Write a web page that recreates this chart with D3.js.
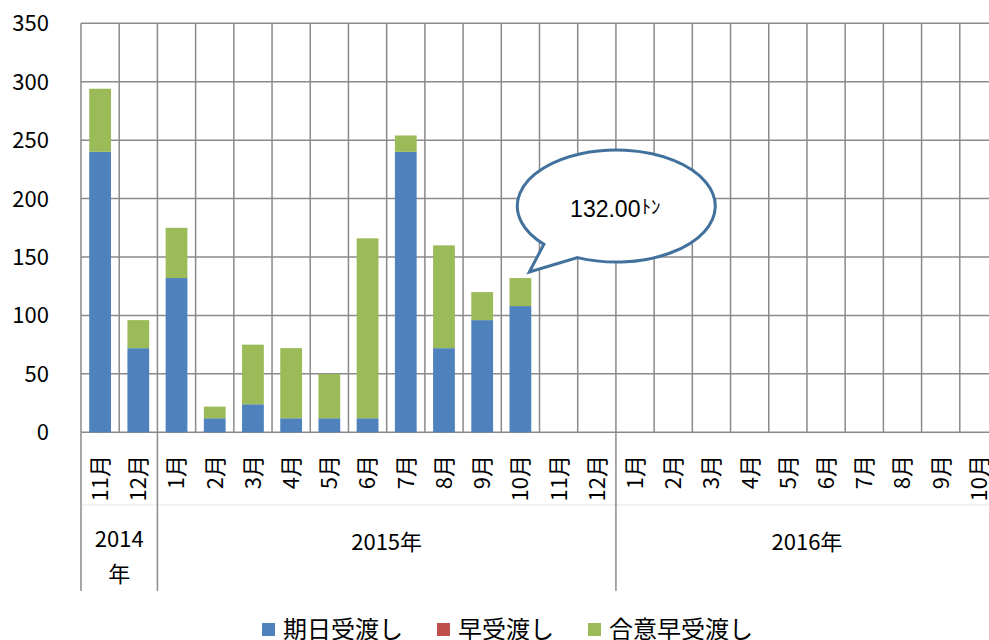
<!DOCTYPE html>
<html>
<head>
<meta charset="utf-8">
<script src="https://cdn.jsdelivr.net/npm/d3@7"></script>
<style>
  body { margin: 0; background: #fff; }
  text { font-family: "Noto Sans CJK JP", "Noto Sans", sans-serif; fill: #000; }
</style>
</head>
<body>
<svg id="chart" width="989" height="640"></svg>
<script>
var months = ["11月", "12月",
  "1月", "2月", "3月", "4月", "5月", "6月", "7月", "8月", "9月", "10月", "11月", "12月",
  "1月", "2月", "3月", "4月", "5月", "6月", "7月", "8月", "9月", "10月"];
var yearLabels = [["2014", "年"], ["2015年"], ["2016年"]];
var yearSpans = [2, 12, 10];

var seriesNames = ["期日受渡し", "早受渡し", "合意早受渡し"];
var seriesColors = ["#4F81BD", "#C0504D", "#9BBB59"];
var kijitsu = [240, 72, 132, 12, 24, 12, 12, 12, 240, 72, 96, 108];
var haya = [0, 0, 0, 0, 0, 0, 0, 0, 0, 0, 0, 0];
var goui = [54, 24, 43, 10, 51, 60, 38, 154, 14, 88, 24, 24];
var yTicks = [0, 50, 100, 150, 200, 250, 300, 350];

var calloutIndex = 11;
var calloutText = "132.00";
var calloutUnit = "ﾄﾝ";

var plotLeft = 81, plotTop = 23.3, plotBottom = 432.3, plotRight = 998;

var svg = d3.select("#chart");

var x = d3.scaleBand()
  .domain(d3.range(months.length))
  .range([plotLeft, plotRight])
  .paddingInner(0.43)
  .paddingOuter(0.215);
var step = x.step();

var y = d3.scaleLinear()
  .domain([0, 350])
  .range([plotBottom, plotTop]);

// grid
svg.append("g")
  .selectAll("line")
  .data(yTicks)
  .enter()
  .append("line")
  .attr("x1", plotLeft).attr("x2", plotRight)
  .attr("y1", function(d) { return y(d); })
  .attr("y2", function(d) { return y(d); })
  .attr("stroke", "#8a8a8a")
  .attr("stroke-width", 1.5);

svg.append("g")
  .selectAll("line")
  .data(d3.range(months.length + 1))
  .enter()
  .append("line")
  .attr("x1", function(i) { return plotLeft + i * step; })
  .attr("x2", function(i) { return plotLeft + i * step; })
  .attr("y1", plotTop)
  .attr("y2", plotBottom)
  .attr("stroke", "#8a8a8a")
  .attr("stroke-width", 1.5);

// year separators below the axis
var yearStarts = [0];
yearSpans.forEach(function(s, i) { yearStarts.push(yearStarts[i] + s); });

svg.append("line")
  .attr("x1", plotLeft).attr("x2", plotRight)
  .attr("y1", 505).attr("y2", 505)
  .attr("stroke", "#e6e6e6")
  .attr("stroke-width", 1);

svg.append("g")
  .selectAll("line")
  .data(yearStarts)
  .enter()
  .append("line")
  .attr("x1", function(i) { return plotLeft + i * step; })
  .attr("x2", function(i) { return plotLeft + i * step; })
  .attr("y1", plotBottom)
  .attr("y2", 591)
  .attr("stroke", "#8a8a8a")
  .attr("stroke-width", 1.5);

// stacked bars
var rows = kijitsu.map(function(v, i) {
  return { i: i, kijitsu: v, haya: haya[i], goui: goui[i] };
});
var stack = d3.stack().keys(["kijitsu", "haya", "goui"]);
var layers = stack(rows);

svg.append("g")
  .selectAll("g")
  .data(layers)
  .enter()
  .append("g")
  .attr("fill", function(d, k) { return seriesColors[k]; })
  .selectAll("rect")
  .data(function(d) { return d; })
  .enter()
  .append("rect")
  .attr("x", function(d) { return x(d.data.i); })
  .attr("width", x.bandwidth())
  .attr("y", function(d) { return y(d[1]); })
  .attr("height", function(d) { return y(d[0]) - y(d[1]); });

// y labels
svg.append("g")
  .selectAll("text")
  .data(yTicks)
  .enter()
  .append("text")
  .attr("x", 49)
  .attr("y", function(d) { return y(d); })
  .attr("dy", "0.36em")
  .attr("text-anchor", "end")
  .style("font-size", "22px")
  .text(function(d) { return d; });

// month labels
svg.append("g")
  .selectAll("text")
  .data(months)
  .enter()
  .append("text")
  .attr("transform", function(d, i) {
    return "translate(" + (x(i) + x.bandwidth() / 2) + ",455) rotate(-90)";
  })
  .attr("dy", "0.36em")
  .attr("text-anchor", "end")
  .style("font-size", "22px")
  .text(function(d) { return d; });

// year labels
var yearText = svg.append("g")
  .selectAll("text")
  .data(yearLabels)
  .enter()
  .append("text")
  .attr("text-anchor", "middle")
  .style("font-size", "22px")
  .attr("x", function(d, k) { return plotLeft + (yearStarts[k] + yearSpans[k] / 2) * step; })
  .attr("y", function(d) { return d.length > 1 ? 547 : 550; });
yearText.selectAll("tspan")
  .data(function(d, k) {
    var mx = plotLeft + (yearStarts[k] + yearSpans[k] / 2) * step;
    return d.map(function(s) { return { s: s, mx: mx }; });
  })
  .enter()
  .append("tspan")
  .attr("x", function(d) { return d.mx; })
  .attr("dy", function(d, j) { return j === 0 ? 0 : 35; })
  .text(function(d) { return d.s; });

// callout
var tipX = x(calloutIndex) + x.bandwidth() - 2;
var tipY = y(kijitsu[calloutIndex] + haya[calloutIndex] + goui[calloutIndex]) - 6;
var cx = tipX + 87, cy = tipY - 66, rx = 99, ry = 56;
function ept(deg) {
  var a = deg * Math.PI / 180;
  return [cx + rx * Math.cos(a), cy + ry * Math.sin(a)];
}
var pa = ept(137), pb = ept(113);
svg.append("path")
  .attr("d", "M" + pa[0] + "," + pa[1] +
    " A" + rx + "," + ry + " 0 1 1 " + pb[0] + "," + pb[1] +
    " L" + tipX + "," + tipY + " Z")
  .attr("fill", "#fff")
  .attr("stroke", "#41719C")
  .attr("stroke-width", 3)
  .attr("stroke-linejoin", "miter");

var ct = svg.append("text")
  .attr("x", cx - 1)
  .attr("y", cy + 11)
  .attr("text-anchor", "middle")
  .style("font-family", "'Liberation Sans', Arial, sans-serif")
  .style("font-size", "23px");
ct.append("tspan").text(calloutText);
ct.append("tspan")
  .attr("dy", -3)
  .attr("dx", 1)
  .style("font-size", "19px")
  .style("font-family", "'Noto Sans CJK JP', sans-serif")
  .text(calloutUnit);

// legend
var lx = 262;
seriesNames.forEach(function(name, k) {
  svg.append("rect")
    .attr("x", lx).attr("y", 623)
    .attr("width", 13).attr("height", 13)
    .attr("fill", seriesColors[k]);
  var t = svg.append("text")
    .attr("x", lx + 21)
    .attr("y", 638)
    .style("font-size", "24px")
    .text(name);
  lx = lx + 21 + t.node().getComputedTextLength() + 34;
});
</script>
</body>
</html>
